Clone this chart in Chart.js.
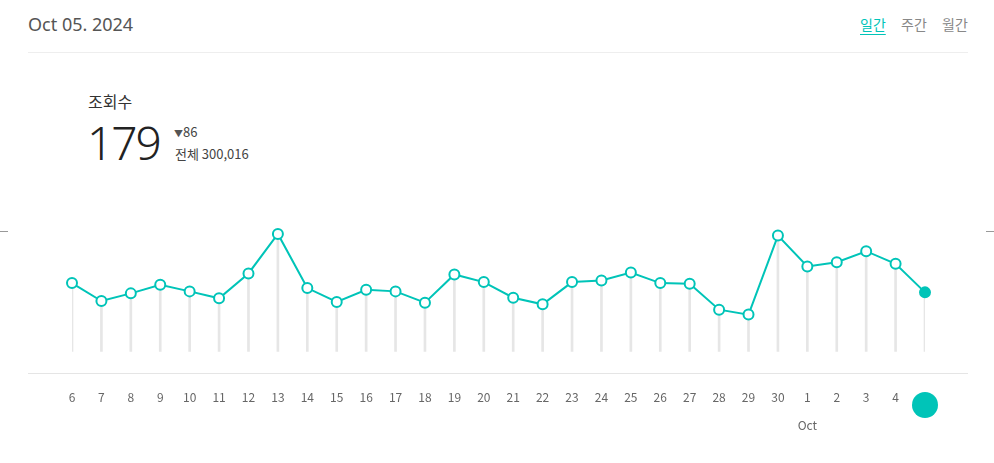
<!DOCTYPE html>
<html><head><meta charset="utf-8">
<script src="https://cdn.jsdelivr.net/npm/chart.js@4/dist/chart.umd.min.js"></script>
<style>
body{margin:0;width:994px;height:463px;background:#fff;font-family:"Noto Sans CJK KR","Noto Sans",sans-serif;position:relative;overflow:hidden}
.a{position:absolute;white-space:nowrap}
</style></head><body>
<div class="a" style="left:28px;top:12px;font-size:18px;color:#555;font-family:'Noto Sans',sans-serif">Oct 05. 2024</div>
<div class="a" style="left:860px;top:14px;font-size:14px;color:#00c4b8;text-decoration:underline;text-underline-offset:4px">일간</div>
<div class="a" style="left:901px;top:14px;font-size:14px;color:#888">주간</div>
<div class="a" style="left:942px;top:14px;font-size:14px;color:#888">월간</div>
<div class="a" style="left:28px;top:52px;width:940px;height:1px;background:#eee"></div>
<div class="a" style="left:88px;top:89px;font-size:16px;color:#333">조회수</div>
<div class="a" style="left:87px;top:111px;font-size:46px;color:#222;font-weight:300;font-family:'Noto Sans',sans-serif;letter-spacing:-2px">179</div>
<div class="a" style="left:174px;top:122px;font-size:13px;color:#444"><span style="font-size:9px;color:#555">▼</span>86</div>
<div class="a" style="left:175px;top:144px;font-size:13px;color:#444">전체 300,016</div>
<div class="a" style="left:0;top:231px;width:8px;height:1px;background:#999"></div>
<div class="a" style="left:986px;top:231px;width:8px;height:1px;background:#999"></div>
<div class="a" style="left:28px;top:373px;width:940px;height:1px;background:#e5e5e5"></div>
<div class="a" style="left:0;top:0;width:994px;height:463px"><canvas id="c" width="994" height="463"></canvas></div>
<script>
const labels=['6','7','8','9','10','11','12','13','14','15','16','17','18','19','20','21','22','23','24','25','26','27','28','29','30',['1','Oct'],'2','3','4','오늘'];
const views=[207,153,176,202,182,161,236,355,192,150,187,182,148,233,210,163,143,210,215,239,207,205,127,112,350,257,270,303,265,179];
const teal='#00c4b8';
const n=views.length;
const badge={id:'badge',beforeDatasetsDraw(ch){const s=ch.scales.x,ctx=ch.ctx;const x=s.getPixelForTick(n-1);ctx.save();ctx.fillStyle=teal;ctx.beginPath();ctx.arc(x,405,13,0,Math.PI*2);ctx.fill();ctx.restore();}};
new Chart(document.getElementById('c'),{
 data:{labels,datasets:[
  {type:'line',data:views,borderColor:teal,borderWidth:2,tension:0,pointRadius:5,pointHoverRadius:5,pointBorderWidth:2,pointBorderColor:teal,
   pointBackgroundColor:views.map((v,i)=>i===n-1?teal:'#fff'),order:0},
  {type:'bar',data:views,backgroundColor:'#e6e6e6',barThickness:2,order:1}
 ]},
 options:{responsive:false,animation:false,devicePixelRatio:1,
  layout:{padding:{left:72,right:69,top:219,bottom:0}},
  plugins:{legend:{display:false},tooltip:{enabled:false}},
  scales:{
   x:{offset:false,grid:{display:false},border:{display:false},
      ticks:{autoSkip:false,maxRotation:0,padding:24,color:labels.map((l,i)=>i===n-1?'#fff':'#666'),font:{size:12,family:"'Noto Sans CJK KR','Noto Sans',sans-serif",lineHeight:2.3}}},
   y:{display:false,min:0,max:400}
  }},
 plugins:[badge]
});
</script>
</body></html>
